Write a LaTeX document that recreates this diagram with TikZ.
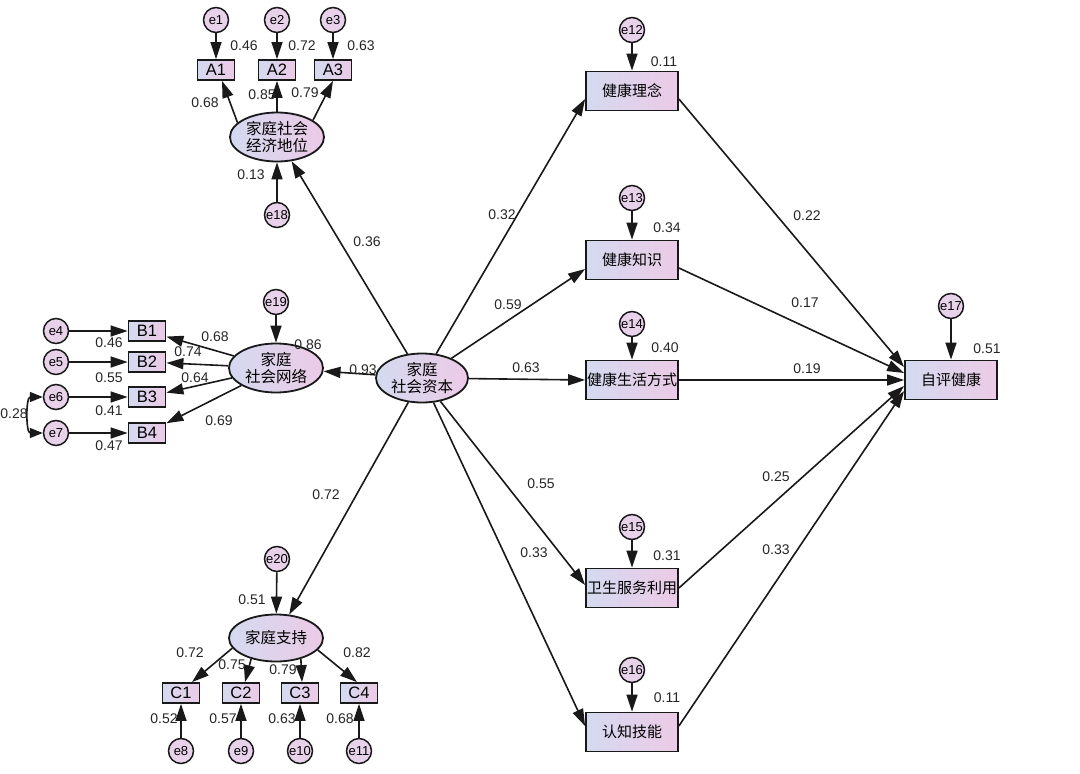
\documentclass[tikz,border=0pt]{standalone}
\usepackage{fontspec}
\setmainfont{Liberation Sans}
\newfontfamily\cjk{Noto Sans CJK SC}
\usetikzlibrary{shapes.geometric,arrows.meta}
\definecolor{lb}{RGB}{212,218,240}
\definecolor{lp}{RGB}{236,202,230}
\definecolor{ecol}{RGB}{232,210,234}
\definecolor{ln}{RGB}{25,25,25}
\begin{document}
\begin{tikzpicture}[x=1pt,y=-1pt,
  err/.style={circle,draw=ln,line width=1.5pt,fill=ecol,minimum size=25pt,inner sep=0pt,font=\fontsize{13}{13}\selectfont},
  obs/.style={rectangle,draw=ln,line width=1.8pt,left color=lb,right color=lp,minimum width=37pt,minimum height=20pt,inner sep=0pt,font=\fontsize{16.5}{16}\selectfont},
  big/.style={rectangle,draw=ln,line width=1.8pt,left color=lb,right color=lp,minimum width=92pt,minimum height=39pt,inner sep=0pt,font=\cjk\fontsize{15}{15}\selectfont},
  lat/.style={ellipse,draw=ln,line width=1.8pt,left color=lb,right color=lp,minimum width=94pt,minimum height=49pt,inner sep=0pt,align=center,font=\cjk\fontsize{15.5}{17}\selectfont},
  arr/.style={draw=ln,line width=1.6pt,-{Triangle[length=17pt,width=11pt]}},
  num/.style={font=\fontsize{14}{14}\selectfont,text=black!85,inner sep=0pt}]
\useasboundingbox (0,0) rectangle (1080,774);
\fill[white] (0,0) rectangle (1080,774);

% central latent
\node[lat,minimum width=92pt] (cap) at (422,378) {家庭\\社会资本};
% SES
\node[lat] (ses) at (277,137) {家庭社会\\经济地位};
\node[obs] (a1) at (216,70) {A1};
\node[obs] (a2) at (277,70) {A2};
\node[obs] (a3) at (333,70) {A3};
\node[err] (e1) at (216,20) {e1};
\node[err] (e2) at (277,20) {e2};
\node[err] (e3) at (333,20) {e3};
\node[err] (e18) at (277,215) {e18};
% network
\node[lat] (net) at (276,368) {家庭\\社会网络};
\node[err] (e19) at (276,302) {e19};
\node[obs] (b1) at (147,331) {B1};
\node[obs] (b2) at (147,362) {B2};
\node[obs] (b3) at (147,397) {B3};
\node[obs] (b4) at (147,433) {B4};
\node[err] (e4) at (56,331) {e4};
\node[err] (e5) at (56,362) {e5};
\node[err] (e6) at (56,397) {e6};
\node[err] (e7) at (56,433) {e7};
% support
\node[lat,minimum height=47pt] (sup) at (276,638) {家庭支持};
\node[err] (e20) at (277,559) {e20};
\node[obs] (c1) at (181,693) {C1};
\node[obs] (c2) at (241,693) {C2};
\node[obs] (c3) at (300,693) {C3};
\node[obs] (c4) at (359,693) {C4};
\node[err] (e8) at (181,751) {e8};
\node[err] (e9) at (241,751) {e9};
\node[err] (e10) at (300,751) {e10};
\node[err] (e11) at (359,751) {e11};
% right column
\node[big] (hp) at (632,91) {健康理念};
\node[big] (hk) at (632,260) {健康知识};
\node[big] (hl) at (632,380) {健康生活方式};
\node[big] (hs) at (632,588) {卫生服务利用};
\node[big] (cs) at (632,732) {认知技能};
\node[big] (sh) at (951,380) {自评健康};
\node[err] (e12) at (632,30) {e12};
\node[err] (e13) at (632,198) {e13};
\node[err] (e14) at (632,324) {e14};
\node[err] (e15) at (632,527) {e15};
\node[err] (e16) at (632,670) {e16};
\node[err] (e17) at (951,306) {e17};

% arrows: SES block
\draw[arr] (e1) -- (a1);
\draw[arr] (e2) -- (a2);
\draw[arr] (e3) -- (a3);
\draw[arr] (ses.160) -- ([xshift=6pt]a1.south);
\draw[arr] (ses.north) -- (a2.south);
\draw[arr] (ses.25) -- (a3.south);
\draw[arr] (e18) -- (ses);
\draw[arr] (cap) -- (ses);
% network block
\draw[arr] (e19) -- (net);
\draw[arr] (cap) -- (net);
\draw[arr] (net) -- (b1);
\draw[arr] (net) -- (b2);
\draw[arr] (net) -- (b3);
\draw[arr] (net) -- (b4);
\draw[arr] (e4) -- (b1);
\draw[arr] (e5) -- (b2);
\draw[arr] (e6) -- (b3);
\draw[arr] (e7) -- (b4);
\draw[draw=ln,line width=1.6pt,{Triangle[length=13pt,width=10pt]}-{Triangle[length=13pt,width=10pt]}] (e6.west) .. controls +(-17,0) and +(-17,0) .. (e7.west);
% support block
\draw[arr] (e20) -- (sup);
\draw[arr] (cap) -- (sup);
\draw[arr] (sup.193) -- ([xshift=11pt]c1.north);
\draw[arr] (sup.220) -- ([xshift=4pt]c2.north);
\draw[arr] (sup.320) -- ([xshift=2pt]c3.north);
\draw[arr] (sup.344) -- ([xshift=-2pt]c4.north);
\draw[arr] (e8) -- (c1);
\draw[arr] (e9) -- (c2);
\draw[arr] (e10) -- (c3);
\draw[arr] (e11) -- (c4);
% right paths
\draw[arr] (cap) -- ([yshift=-8pt]hp.west);
\draw[arr] (cap) -- ([yshift=-9pt]hk.west);
\draw[arr] (cap) -- (hl.west);
\draw[arr] (cap) -- ([yshift=3pt]hs.west);
\draw[arr] (cap) -- ([yshift=6pt]cs.west);
\draw[arr] ([yshift=-8pt]hp.east) -- ([yshift=13pt]sh.west);
\draw[arr] ([yshift=-8pt]hk.east) -- ([yshift=7pt]sh.west);
\draw[arr] (hl.east) -- (sh.west);
\draw[arr] (hs.east) -- ([yshift=-6pt]sh.west);
\draw[arr] ([yshift=6pt]cs.east) -- ([yshift=-11pt]sh.west);
\draw[arr] (e12) -- (hp);
\draw[arr] (e13) -- (hk);
\draw[arr] (e14) -- (hl);
\draw[arr] (e15) -- (hs);
\draw[arr] (e16) -- (cs);
\draw[arr] (e17) -- (sh);

% labels
\node[num] (l1) at (244,46) {0.46};
\node[num] (l2) at (302,46) {0.72};
\node[num] (l3) at (361,46) {0.63};
\node[num] (l4) at (205,103) {0.68};
\node[num] (l5) at (262,95) {0.85};
\node[num] (l6) at (305,93) {0.79};
\node[num] (l7) at (251,175) {0.13};
\node[num] (l8) at (367,242) {0.36};
\node[num] (l9) at (308,345) {0.86};
\node[num] (l10) at (109,343) {0.46};
\node[num] (l11) at (109,378) {0.55};
\node[num] (l12) at (109,411) {0.41};
\node[num] (l13) at (109,446) {0.47};
\node[num] (l14) at (215,337) {0.68};
\node[num] (l15) at (188,352) {0.74};
\node[num] (l16) at (195,378) {0.64};
\node[num] (l17) at (219,421) {0.69};
\node[num] (l18) at (14,414) {0.28};
\node[num] (l19) at (363,370) {0.93};
\node[num] (l20) at (326,495) {0.72};
\node[num] (l21) at (252,600) {0.51};
\node[num] (l22) at (190,653) {0.72};
\node[num] (l23) at (232,665) {0.75};
\node[num] (l24) at (283,670) {0.79};
\node[num] (l25) at (357,653) {0.82};
\node[num] (l26) at (164,719) {0.52};
\node[num] (l27) at (223,719) {0.57};
\node[num] (l28) at (282,719) {0.63};
\node[num] (l29) at (340,719) {0.68};
\node[num] (l30) at (664,62) {0.11};
\node[num] (l31) at (667,228) {0.34};
\node[num] (l32) at (665,348) {0.40};
\node[num] (l33) at (667,556) {0.31};
\node[num] (l34) at (667,698) {0.11};
\node[num] (l35) at (987,349) {0.51};
\node[num] (l36) at (502,215) {0.32};
\node[num] (l37) at (508,305) {0.59};
\node[num] (l38) at (526,368) {0.63};
\node[num] (l39) at (541,484) {0.55};
\node[num] (l40) at (534,553) {0.33};
\node[num] (l41) at (807,216) {0.22};
\node[num] (l42) at (805,303) {0.17};
\node[num] (l43) at (807,369) {0.19};
\node[num] (l44) at (776,477) {0.25};
\node[num] (l45) at (776,550) {0.33};
\end{tikzpicture}
\end{document}
